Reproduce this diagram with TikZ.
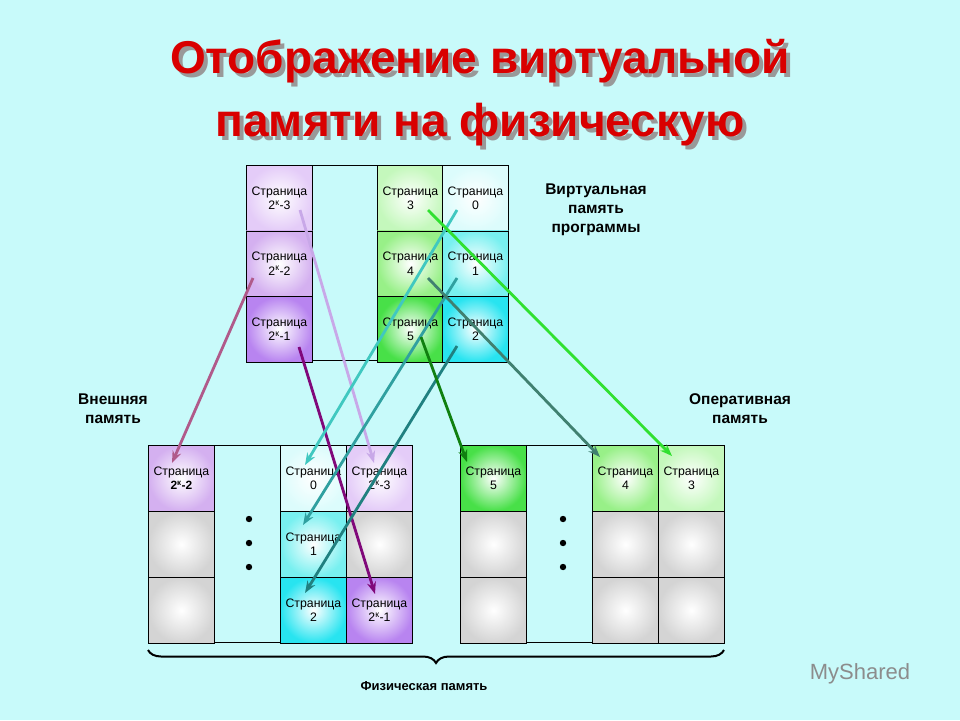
\documentclass[tikz,border=0pt]{standalone}
\usepackage{fontspec}
\setmainfont{Liberation Sans}
\usetikzlibrary{decorations.pathreplacing,arrows.meta}
\definecolor{bg}{HTML}{C8FAFA}
\definecolor{pA}{HTML}{E4CCF8}\definecolor{pB}{HTML}{D4B0F0}\definecolor{pC}{HTML}{B884F0}
\definecolor{gA}{HTML}{C4F8BC}\definecolor{gB}{HTML}{98F088}\definecolor{gC}{HTML}{48E048}
\definecolor{cA}{HTML}{DCFCFC}\definecolor{cB}{HTML}{78F0F0}\definecolor{cC}{HTML}{28E4F0}
\definecolor{gr}{HTML}{D4D4D4}
\definecolor{k1}{HTML}{B05A8A}\definecolor{k2}{HTML}{C8A8E8}\definecolor{k3}{HTML}{80087A}
\definecolor{k4}{HTML}{40C8C0}\definecolor{k5}{HTML}{30A0A0}\definecolor{k6}{HTML}{208080}
\definecolor{k7}{HTML}{30E030}\definecolor{k8}{HTML}{408070}\definecolor{k9}{HTML}{108010}
\tikzset{
 cell/.style={draw=black, line width=0.9pt, minimum width=66pt, minimum height=65.5pt, inner sep=0pt, anchor=north west, align=center, font=\fontsize{12.3}{14.5}\selectfont, inner color=white, outer color=#1, text depth=0pt},
 lbl/.style={font=\bfseries\fontsize{15.5}{19}\selectfont, align=center},
 arr/.style={line width=2.8pt, draw=#1, -{Stealth[length=12pt,width=9pt]}},
 ttl/.style={font=\bfseries\fontsize{46}{63}\selectfont, align=center}
}
\begin{document}
\begin{tikzpicture}[x=1pt,y=-1pt]
\fill[bg] (0,0) rectangle (960,720);
\useasboundingbox (0,0) rectangle (960,720);
\node[ttl, text=black!40] (tsh) at (484,97) {Отображение виртуальной\\памяти на физическую};
\node[ttl, text=red!85!black] (title) at (480,93) {Отображение виртуальной\\памяти на физическую};
% virtual
\draw[line width=0.9pt] (312,165) rectangle (377,360);
\node[cell=pA] (v3k) at (246,165) {Страница\\2\textsuperscript{к}-3};
\node[cell=pB] (v2k) at (246,230.5) {Страница\\2\textsuperscript{к}-2};
\node[cell=pC] (v1k) at (246,296) {Страница\\2\textsuperscript{к}-1};
\node[cell=gA] (v3) at (377,165) {Страница\\3};
\node[cell=gB] (v4) at (377,230.5) {Страница\\4};
\node[cell=gC] (v5) at (377,296) {Страница\\5};
\node[cell=cA] (v0) at (442,165) {Страница\\0};
\node[cell=cB] (v1) at (442,230.5) {Страница\\1};
\node[cell=cC] (v2) at (442,296) {Страница\\2};
\node[lbl] (vl) at (596,210) {Виртуальная\\память\\программы};
\node[lbl] (ext) at (113,409) {Внешняя\\память};
\node[lbl] (op) at (740,409) {Оперативная\\память};
% physical left
\draw[line width=0.9pt] (214,445) rectangle (280,642);
\node[cell=pB] (p2k) at (148,445) {Страница\\\textbf{\large 2\textsuperscript{к}-2}};
\node[cell=gr] (pe1) at (148,511) {};
\node[cell=gr] (pe2) at (148,577) {};
\node[cell=cA] (p0) at (280,445) {Страница\\0};
\node[cell=cB] (p1) at (280,511) {Страница\\1};
\node[cell=cC] (p2) at (280,577) {Страница\\2};
\node[cell=pA] (p3k) at (346,445) {Страница\\2\textsuperscript{к}-3};
\node[cell=gr] (pe3) at (346,511) {};
\node[cell=pC] (p1k) at (346,577) {Страница\\2\textsuperscript{к}-1};
\foreach \y in {519,543,567} \fill (249,\y) circle (3.2pt);
% physical right
\draw[line width=0.9pt] (526,445) rectangle (592,642);
\node[cell=gC] (p5) at (460,445) {Страница\\5};
\node[cell=gr] (pe4) at (460,511) {};
\node[cell=gr] (pe5) at (460,577) {};
\node[cell=gB] (p4) at (592,445) {Страница\\4};
\node[cell=gr] (pe6) at (592,511) {};
\node[cell=gr] (pe7) at (592,577) {};
\node[cell=gA] (p3) at (658,445) {Страница\\3};
\node[cell=gr] (pe8) at (658,511) {};
\node[cell=gr] (pe9) at (658,577) {};
\foreach \y in {519,543,567} \fill (563,\y) circle (3.2pt);
% arrows
\coordinate (a1) at (253,278); \coordinate (b1) at (172,463);
\draw[arr=k1] (a1) -- (b1);
\coordinate (a2) at (300,210); \coordinate (b2) at (374,463);
\draw[arr=k2] (a2) -- (b2);
\coordinate (a3) at (299,347); \coordinate (b3) at (375,594);
\draw[arr=k3] (a3) -- (b3);
\coordinate (a4) at (457,210); \coordinate (b4) at (305,465);
\draw[arr=k4] (a4) -- (b4);
\coordinate (a5) at (457,278); \coordinate (b5) at (303,525);
\draw[arr=k5] (a5) -- (b5);
\coordinate (a6) at (457,346); \coordinate (b6) at (305,593);
\draw[arr=k6] (a6) -- (b6);
\coordinate (a7) at (428,210); \coordinate (b7) at (672,456);
\draw[arr=k7] (a7) -- (b7);
\coordinate (a8) at (428,278); \coordinate (b8) at (600,457);
\draw[arr=k8] (a8) -- (b8);
\coordinate (a9) at (421,337); \coordinate (b9) at (467,462);
\draw[arr=k9] (a9) -- (b9);
% brace
\draw[line width=2pt, decorate, decoration={brace, mirror, amplitude=13pt}] (148,650) -- (724,650);
\node[font=\bfseries\fontsize{13}{15}\selectfont] (fl) at (424,686) {Физическая память};
\node[font=\fontsize{22}{26}\selectfont, text=black!45] (ms) at (860,674) {MyShared};
\end{tikzpicture}
\end{document}
